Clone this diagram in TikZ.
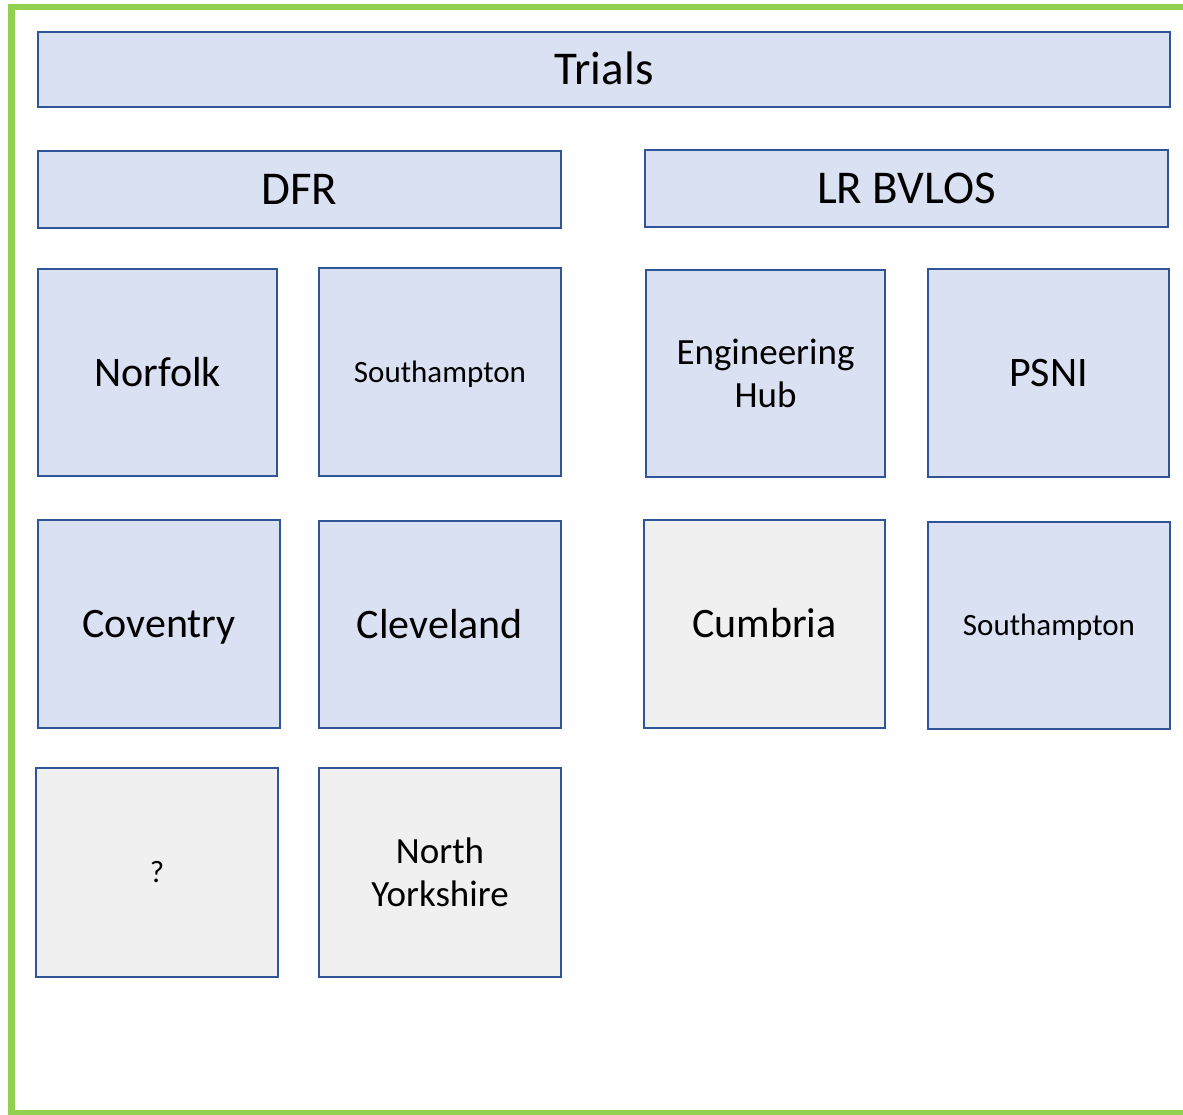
\documentclass[tikz,border=0pt]{standalone}
\usepackage{fontspec}
\setmainfont{Carlito}
\definecolor{framegreen}{HTML}{92D050}
\definecolor{boxblue}{HTML}{2F5597}
\definecolor{boxfill}{HTML}{DAE1F3}
\definecolor{boxgrey}{HTML}{F0F0F0}
\tikzstyle{bluebox}=[rectangle,draw=boxblue,fill=boxfill,line width=2.4pt,
                     inner sep=0pt,align=center,text=black,text depth=0pt]
\tikzstyle{greybox}=[bluebox,fill=boxgrey]
\tikzstyle{headbox}=[bluebox,font=\fontsize{47}{52}\selectfont,text height=30pt]
\tikzstyle{bigtxt}=[font=\fontsize{42}{44}\selectfont,text height=27pt]
\tikzstyle{twotxt}=[font=\fontsize{37}{43}\selectfont,text height=67pt]
\tikzstyle{smltxt}=[font=\fontsize{31}{34}\selectfont,text height=20pt]
\begin{document}
\begin{tikzpicture}[x=1pt,y=-1pt]
    \useasboundingbox (0,0) rectangle (1183,1115);
    \draw[framegreen,line width=6.5pt] (11.5,7) rectangle (1200,1113);
    % headers
    \node (trials) at (604,69.5) [headbox,minimum width=1132pt,minimum height=75pt]{Trials};
    \node (dfr) at (299.5,189.5) [headbox,minimum width=523pt,minimum height=77pt]{DFR};
    \node (lrb) at (906.5,188.5) [headbox,minimum width=523pt,minimum height=77pt]{LR BVLOS};
    % DFR trials
    \node (norfolk) at (157.5,372.5) [bluebox,bigtxt,minimum width=239pt,minimum height=207pt]{Norfolk};
    \node (soton1) at (440,372) [bluebox,smltxt,minimum width=242pt,minimum height=208pt]{Southampton};
    \node (coventry) at (159,624) [bluebox,bigtxt,minimum width=242pt,minimum height=208pt]{Coventry};
    \node (cleveland) at (440,624.5) [bluebox,bigtxt,minimum width=242pt,minimum height=207pt]{Cleveland};
    \node (unknown) at (157,872.5) [greybox,smltxt,minimum width=242pt,minimum height=209pt]{?};
    \node (nyorks) at (440,872.5) [greybox,twotxt,minimum width=242pt,minimum height=209pt]{North\\Yorkshire};
    % LR BVLOS trials
    \node (enghub) at (765.5,373.5) [bluebox,twotxt,minimum width=239pt,minimum height=207pt]{Engineering\\Hub};
    \node (psni) at (1048.5,373) [bluebox,bigtxt,minimum width=241pt,minimum height=208pt]{PSNI};
    \node (cumbria) at (764.5,624) [greybox,bigtxt,minimum width=241pt,minimum height=208pt]{Cumbria};
    \node (soton2) at (1049,625.5) [bluebox,smltxt,minimum width=242pt,minimum height=207pt]{Southampton};
\end{tikzpicture}
\end{document}
